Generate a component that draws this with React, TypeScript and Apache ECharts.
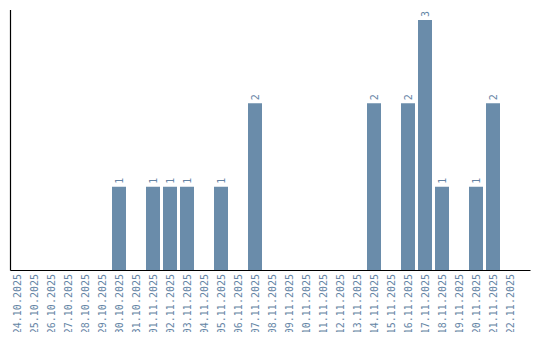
import React, { useEffect, useRef } from "react";
import * as echarts from "echarts";

const categories = [
  "24.10.2025","25.10.2025","26.10.2025","27.10.2025","28.10.2025","29.10.2025","30.10.2025","31.10.2025",
  "01.11.2025","02.11.2025","03.11.2025","04.11.2025","05.11.2025","06.11.2025","07.11.2025","08.11.2025",
  "09.11.2025","10.11.2025","11.11.2025","12.11.2025","13.11.2025","14.11.2025","15.11.2025","16.11.2025",
  "17.11.2025","18.11.2025","19.11.2025","20.11.2025","21.11.2025","22.11.2025",
];
const counts = [0,0,0,0,0,0,1,0,1,1,1,0,1,0,2,0,0,0,0,0,0,2,0,2,3,1,0,1,2,0];

const BLUE = "#6a8caa";
const TEXT = "#6585a5";
const FONT = "DejaVu Sans Mono";

export default function App() {
  const ref = useRef<HTMLDivElement>(null);
  useEffect(() => {
    if (!ref.current) return;
    const chart = echarts.init(ref.current, null, { renderer: "svg" });
    chart.setOption({
      animation: false,
      grid: { left: 8.5, right: 21.5, top: 20, bottom: 70, containLabel: false },
      xAxis: {
        type: "category",
        data: categories,
        axisLine: { show: false },
        axisTick: { show: false },
        axisLabel: {
          rotate: 90,
          interval: 0,
          color: TEXT,
          fontSize: 10,
          margin: 4,
          fontFamily: FONT,
        },
      },
      yAxis: {
        type: "value",
        min: 0,
        max: 3,
        axisLine: { show: false },
        axisTick: { show: false },
        axisLabel: { show: false },
        splitLine: { show: false },
      },
      series: [
        {
          type: "bar",
          data: counts.map((v) => (v === 0 ? null : v)),
          barWidth: 14,
          itemStyle: { color: BLUE },
          label: {
            show: true,
            position: "top",
            rotate: 90,
            align: "left",
            verticalAlign: "middle",
            distance: 3,
            color: TEXT,
            fontSize: 10,
            fontFamily: FONT,
          },
        },
      ],
      graphic: [
        {
          type: "line",
          shape: { x1: 10.5, y1: 10, x2: 10.5, y2: 270.5 },
          style: { stroke: "#000", lineWidth: 1.2 },
        },
        {
          type: "line",
          shape: { x1: 10.5, y1: 270.5, x2: 530.5, y2: 270.5 },
          style: { stroke: "#000", lineWidth: 1.2 },
        },
      ],
    });
    return () => chart.dispose();
  }, []);
  return <div ref={ref} style={{ width: 540, height: 340, margin: -8 }} />;
}
